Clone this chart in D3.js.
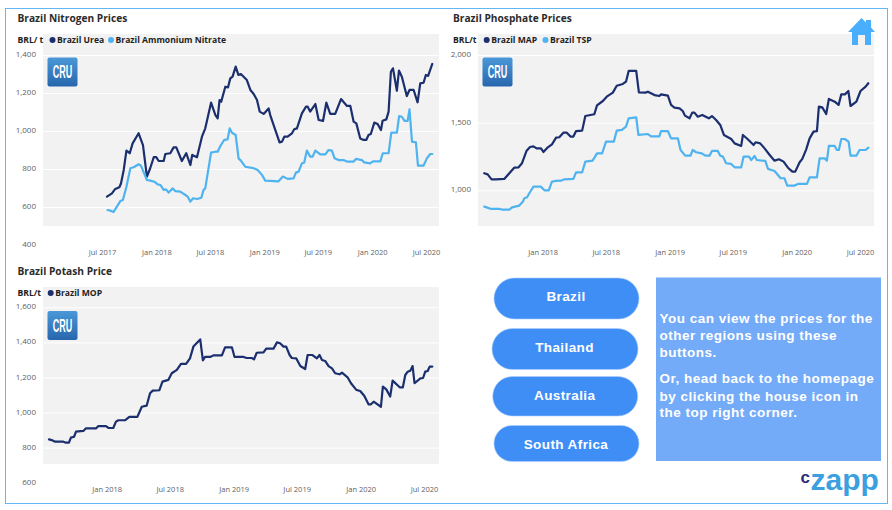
<!DOCTYPE html>
<html><head><meta charset="utf-8">
<script src="https://cdn.jsdelivr.net/npm/d3@7"></script>
<style>
html,body{margin:0;padding:0;background:#fff}
svg{display:block}
text{font-family:"Open Sans",sans-serif}
</style></head><body><svg id="c" width="892" height="510"></svg>
<script>
// [weeks after series' reference date, BRL/t]
const ureaData=[[2.4,655],[4.8,672],[6.4,695],[8.4,704],[9.2,725],[10.5,795],[11.8,897],[13.4,883],[14.8,935],[17.7,988],[19.8,926],[21.7,760],[23.3,804],[25,862],[26.2,862],[27.4,842],[29.8,842],[30.6,879],[33,883],[34.6,914],[35.9,914],[38.6,842],[40.7,883],[42.7,821],[43.6,874],[45.9,862],[48.3,970],[49.9,1014],[52.7,1149],[54.8,1084],[55.9,1067],[56.8,1163],[57.6,1154],[59.6,1233],[60.9,1230],[62,1277],[63.1,1286],[64.6,1339],[65.9,1295],[67.1,1300],[70,1268],[71.7,1216],[73.3,1195],[74.9,1163],[76.2,1102],[78.1,1090],[80.5,1119],[81.3,1084],[82.9,1032],[85.8,940],[87,944],[88.1,970],[89.7,970],[91.8,988],[92.9,1009],[94.2,1014],[96.6,1093],[98.6,1128],[99.4,1128],[100.6,1102],[103.1,1142],[104.7,1058],[106.8,1053],[108.4,1149],[110.3,1090],[112.7,1090],[115.5,1168],[118.4,1132],[120,1132],[121.6,1049],[122.9,1040],[124.8,961],[126.4,953],[127.7,953],[128.8,979],[129.9,984],[131.6,1044],[133.2,1037],[134.8,1005],[135.6,1054],[137.4,1061],[138.5,1102],[139.6,1312],[140.6,1330],[142.5,1212],[143.5,1318],[144.9,1286],[147.3,1184],[148.6,1216],[150.6,1216],[152.5,1151],[153.8,1251],[155.4,1254],[156.5,1295],[157.6,1290],[159.6,1353]];
const ammoniumData=[[2.7,584],[4,581],[5.6,574],[7.2,602],[8.9,632],[10.1,637],[11.8,707],[13.7,804],[15.3,809],[17.7,825],[18.8,818],[21.7,742],[23.3,739],[25.3,733],[26.9,719],[28.2,716],[29.8,690],[30.9,693],[32.2,676],[34.1,698],[35.4,684],[37.8,681],[40.3,663],[41.4,655],[42.7,628],[44,646],[45.9,642],[48,649],[49.1,690],[49.9,698],[52.7,886],[54.8,891],[55.9,891],[57.2,921],[59.1,953],[60.7,956],[61.7,1014],[62.8,991],[64.6,979],[66,856],[67.1,844],[69.2,812],[71.7,807],[73.3,804],[75.2,795],[77.3,769],[78.9,739],[85.3,735],[87.4,760],[89.7,748],[92.6,751],[93.7,781],[95,786],[96.6,830],[97.7,833],[99,897],[100.6,865],[101.8,865],[103.1,897],[105.5,877],[107.9,877],[109.5,900],[111.1,897],[112.4,856],[114.3,847],[116.7,847],[118.4,839],[121.6,839],[122.7,853],[125.6,847],[126.7,835],[129.6,830],[130.9,840],[134.5,840],[135.7,883],[138.5,883],[139.8,991],[142.5,991],[143.6,1079],[144.9,1075],[146.2,1053],[147.7,1053],[148.6,1114],[149.8,944],[151.7,940],[152.7,818],[155.4,818],[157,856],[158.6,879],[159.6,879]];
const mapData=[[-24,1126],[-22.6,1118],[-21,1081],[-19.2,1081],[-15.8,1084],[-13.7,1126],[-11.6,1168],[-9.9,1170],[-8.5,1200],[-6.6,1293],[-5.2,1320],[-3.8,1325],[-2.5,1310],[-0.7,1310],[0.3,1283],[2.1,1318],[3.8,1340],[5.5,1389],[6.8,1392],[8.5,1426],[9.9,1426],[11.4,1397],[12.6,1397],[13.7,1438],[16.2,1441],[17.5,1549],[21.2,1562],[22.3,1628],[24.7,1660],[26.3,1692],[28.8,1722],[30.4,1773],[32.9,1786],[34.2,1803],[35.3,1882],[38.4,1882],[39.5,1724],[42.2,1722],[43.2,1729],[45.9,1704],[47.9,1697],[48.6,1709],[51.4,1700],[52.7,1631],[54.1,1611],[56.2,1606],[57.5,1586],[58.4,1552],[60.3,1532],[61.4,1574],[62.3,1574],[63.7,1544],[65.5,1557],[68.2,1532],[69.5,1549],[71.2,1520],[72.9,1483],[74.4,1409],[77.4,1379],[78.8,1347],[81.5,1328],[82.2,1409],[84.2,1377],[86.6,1335],[87.4,1355],[89.3,1347],[91.1,1310],[93.2,1261],[95.2,1219],[97,1229],[98.9,1212],[100.7,1167],[102.5,1138],[103.7,1138],[105.5,1207],[106.6,1232],[108.2,1303],[109.6,1384],[111.2,1434],[112.6,1438],[113.4,1618],[114.8,1613],[116.4,1564],[117.5,1675],[119.9,1655],[121.5,1631],[122.6,1709],[124.1,1709],[125.5,1734],[126.4,1623],[128.8,1655],[130.5,1734],[132.6,1766],[133.7,1791]];
const tspData=[[-24,879],[-23,874],[-21.2,862],[-17.8,862],[-16.4,857],[-13.7,857],[-12.6,874],[-9.6,887],[-8.2,916],[-7.5,941],[-6.4,948],[-5.5,978],[-3.8,1027],[-0.7,1027],[0.7,1000],[2.5,1000],[3.8,1064],[5.2,1069],[7.5,1071],[8.9,1081],[12.6,1084],[13.7,1133],[16.2,1133],[17.5,1212],[20.5,1219],[22.3,1273],[24.4,1273],[26,1360],[29.2,1360],[30.4,1441],[32.5,1446],[34.2,1470],[35.3,1532],[38.4,1539],[39.3,1409],[43.2,1416],[44.5,1399],[47.9,1399],[48.6,1438],[51.4,1438],[52.7,1384],[55.5,1384],[56.6,1298],[58.5,1256],[60.7,1256],[61.6,1298],[63,1281],[65.3,1273],[66.8,1256],[68.5,1256],[69.5,1291],[71.9,1291],[72.9,1256],[74,1249],[75.3,1200],[77.4,1195],[78.8,1170],[81.5,1170],[82.5,1249],[84.7,1249],[85.6,1224],[87,1254],[87.9,1224],[91.4,1217],[92.5,1158],[95.2,1143],[97.7,1089],[99.3,1089],[100.4,1035],[103.4,1035],[104.8,1047],[108.5,1047],[109.6,1096],[112.6,1096],[113.7,1236],[115.8,1236],[116.7,1219],[117.5,1328],[119.9,1328],[120.8,1298],[121.6,1298],[122.6,1379],[124,1379],[125.6,1360],[126.4,1256],[128.8,1256],[130.1,1298],[132.6,1298],[133.7,1315]];
const mopData=[[-23.7,847],[-22.6,843],[-21.2,834],[-17.8,834],[-16.7,828],[-15.5,828],[-14.7,857],[-13.4,862],[-12.6,891],[-9.6,895],[-8.5,910],[-4.4,910],[-3.4,923],[-0.3,923],[0.7,912],[2.7,912],[3.8,948],[4.8,956],[7.5,956],[9.3,975],[12.6,975],[14.4,1033],[16.4,1039],[17.8,1110],[18.9,1125],[21.6,1127],[22.9,1176],[25.3,1186],[26.7,1224],[28.8,1243],[30.5,1277],[32.6,1277],[34.2,1309],[35.6,1376],[38.4,1417],[39.5,1298],[40.4,1317],[42.5,1317],[43.8,1326],[47.3,1326],[48.6,1372],[51.4,1372],[52.5,1317],[56.2,1317],[57.5,1311],[59.6,1311],[60.5,1303],[61.6,1341],[64.4,1343],[65.5,1364],[68.5,1364],[69.9,1400],[71.2,1395],[72.6,1376],[73.7,1376],[75.1,1328],[76,1311],[77.8,1309],[79.5,1265],[81.5,1248],[82.5,1328],[84.5,1328],[86.3,1309],[87.4,1328],[88.4,1300],[89.7,1294],[91.1,1265],[92.5,1252],[93.8,1224],[95.6,1218],[96.6,1227],[98.9,1201],[100.3,1167],[102.5,1129],[104.1,1123],[105.8,1094],[107.5,1047],[108.5,1047],[109.6,1062],[112.6,1033],[113.4,1148],[114.8,1132],[116.4,1091],[117.4,1182],[120.3,1144],[121.6,1144],[122.6,1214],[123.6,1233],[124.7,1239],[125.6,1265],[126.4,1167],[128.8,1195],[129.9,1197],[130.8,1233],[131.8,1237],[132.6,1262],[133.7,1262]];

const nitrogenYTicks=[400,600,800,1000,1200,1400];
const phosphateYTicks=[1000,1500,2000];
const potashYTicks=[600,800,1000,1200,1400,1600];
const ticksFrom2017=["2017-07-01","2018-01-01","2018-07-01","2019-01-01","2019-07-01","2020-01-01","2020-07-01"];
const ticksFrom2018=ticksFrom2017.slice(1);
const regions=["Brazil","Thailand","Australia","South Africa"];
const noteLines=["You can view the prices for the","other regions using these","buttons.","Or, head back to the homepage","by clicking the house icon in","the top right corner."];

const NAVY="#1b2f6e",SKY="#4fb3ef",GREY="#5f5f5f",INK="#2b2b2b";
const svg=d3.select("#c");
const defs=svg.append("defs");
const g=defs.append("linearGradient").attr("id","cru").attr("x1",0).attr("y1",0).attr("x2",0).attr("y2",1);
g.append("stop").attr("offset",0).attr("stop-color","#4a98d8");
g.append("stop").attr("offset",1).attr("stop-color","#2866ad");

svg.append("rect").attr("x",5.5).attr("y",8.5).attr("width",882).attr("height",495)
  .attr("fill","#fff").attr("stroke","#62b6f2").attr("stroke-width",1);

const parse=d3.utcParse("%Y-%m-%d");
const fmt=d3.utcFormat("%b %Y");

function chart(o){
  const p=svg.append("g");
  p.append("rect").attr("x",o.px[0]).attr("y",o.py[0]).attr("width",o.px[1]-o.px[0]).attr("height",o.py[1]-o.py[0]).attr("fill","#f2f2f2");
  const x=d3.scaleUtc().domain([parse(o.xTicks[0]),parse(o.xTicks[o.xTicks.length-1])]).range(o.xr);
  const y=d3.scaleLinear().domain(o.yd).range(o.yr);
  const base=+parse(o.base);
  const toDate=w=>new Date(base+w*7*864e5);

  const ya=p.append("g").attr("transform",`translate(${o.px[0]},0)`)
    .call(d3.axisLeft(y).tickValues(o.yTicks).tickFormat(d3.format(",")).tickSize(-(o.px[1]-o.px[0])).tickPadding(7));
  ya.select(".domain").remove();
  ya.selectAll("line").attr("stroke","#fff").attr("stroke-width",1);
  ya.selectAll("text").attr("fill",GREY).attr("dy","0.2em").style("font-size","8px").style("font-family","'Open Sans',sans-serif");

  const xa=p.append("g").attr("transform",`translate(0,${o.xAxisY})`)
    .call(d3.axisBottom(x).tickValues(o.xTicks.map(parse)).tickFormat(fmt).tickSize(0).tickPadding(0));
  xa.select(".domain").remove();
  xa.selectAll("text").attr("fill",GREY).style("font-size","7.5px").style("font-family","'Open Sans',sans-serif");

  const line=d3.line().x(d=>x(toDate(d[0]))).y(d=>y(d[1]));
  o.series.forEach(s=>{
    p.append("path").datum(s.data).attr("d",line).attr("fill","none").attr("stroke",s.color)
      .attr("stroke-width",2.2).attr("stroke-linejoin","round").attr("stroke-linecap","round");
  });

  p.append("text").attr("x",o.tx).attr("y",o.ty).text(o.title).attr("fill",INK).style("font-weight",700).style("font-size","10.2px");
  p.append("text").attr("x",o.tx).attr("y",o.ty+21).text(o.unit).attr("fill","#1f1f1f").style("font-weight",700).style("font-size","8.6px");
  o.series.forEach(s=>{
    p.append("circle").attr("cx",s.lx).attr("cy",o.ty+18).attr("r",3).attr("fill",s.color);
    p.append("text").attr("x",s.lx+4.5).attr("y",o.ty+21).text(s.name).attr("fill","#1f1f1f").style("font-weight",700).style("font-size","8.6px");
  });

  // CRU badge
  const b=p.append("g");
  const cx=o.px[0]+19.5;
  b.append("rect").attr("x",o.px[0]+4.5).attr("y",o.badgeY).attr("width",30).attr("height",29).attr("rx",2).attr("fill","url(#cru)");
  b.append("text").attr("x",0).attr("y",o.badgeY+21).attr("text-anchor","middle").text("CRU")
    .attr("fill","#fff").attr("transform",`translate(${cx},0) scale(.5,1)`)
    .style("font-family","'Liberation Sans',sans-serif").style("font-weight",700).style("font-size","18px");
}

chart({title:"Brazil Nitrogen Prices",unit:"BRL/ t",tx:17.5,ty:22,px:[43,439],py:[34,226],xAxisY:250,
  xr:[102,426],yd:[400,1400],yr:[245,55],yTicks:nitrogenYTicks,xTicks:ticksFrom2017,base:"2017-07-01",badgeY:57.5,
  series:[{name:"Brazil Urea",data:ureaData,color:NAVY,lx:52.5},{name:"Brazil Ammonium Nitrate",data:ammoniumData,color:SKY,lx:111}]});
chart({title:"Brazil Phosphate Prices",unit:"BRL/t",tx:453,ty:22,px:[478,874],py:[34,226],xAxisY:250,
  xr:[542.7,860],yd:[1000,2000],yr:[190.3,55],yTicks:phosphateYTicks,xTicks:ticksFrom2018,base:"2018-01-01",badgeY:57.5,
  series:[{name:"Brazil MAP",data:mapData,color:NAVY,lx:486.7},{name:"Brazil TSP",data:tspData,color:SKY,lx:545.5}]});
chart({title:"Brazil Potash Price",unit:"BRL/t",tx:17.5,ty:275,px:[43,439],py:[287,464],xAxisY:487,
  xr:[106.7,424],yd:[600,1600],yr:[482.7,307.3],yTicks:potashYTicks,xTicks:ticksFrom2018,base:"2018-01-01",badgeY:311,
  series:[{name:"Brazil MOP",data:mopData,color:NAVY,lx:50.7}]});

// house icon
const house=svg.append("g").attr("fill","#4aaeff");
house.append("path").attr("d",d3.line()([[848,32],[861.5,18],[866,22.5],[866,20],[871,20],[871,27.5],[875,32],[871,32],[871,45],[865,45],[865,35],[858,35],[858,45],[852,45],[852,32]]));

// region buttons
const btnX=[494,492,492.7,494],btnW=[145,146,145,145],btnY=[278,328.5,376.5,425.5],btnH=[41,41,39.5,36];
const btnG=svg.append("g").selectAll("g").data(regions).join("g");
btnG.append("rect").attr("x",(d,i)=>btnX[i]).attr("y",(d,i)=>btnY[i]).attr("width",(d,i)=>btnW[i]).attr("height",(d,i)=>btnH[i])
  .attr("rx",(d,i)=>btnH[i]/2).attr("fill","#3f8ef6").attr("stroke","#a9cdfb").attr("stroke-width",.6);
const btnBase=[301,351.5,400,448.5];
btnG.append("text").attr("x",(d,i)=>btnX[i]+btnW[i]/2-.5).attr("y",(d,i)=>btnBase[i]).text(d=>d)
  .attr("text-anchor","middle").attr("fill","#fff").style("font-family","'Liberation Sans',sans-serif").style("font-weight",700).style("font-size","13.5px").style("letter-spacing","0.4px");

// note panel
svg.append("rect").attr("x",656).attr("y",277.5).attr("width",225).attr("height",183.5).attr("fill","#74abf8");
const noteY=[322.7,339.7,356.7,383.3,400.5,417.3];
svg.append("g").selectAll("text").data(noteLines).join("text").attr("x",659.5).attr("y",(d,i)=>noteY[i]).text(d=>d)
  .attr("fill","#fff").style("font-family","'Liberation Sans',sans-serif").style("font-weight",700).style("font-size","13.5px").style("letter-spacing","0.5px");

// logo
svg.append("text").attr("x",800.5).attr("y",483).text("c").attr("fill","#2d2a78").style("font-family","'Liberation Sans',sans-serif").style("font-weight",700).style("font-size","17px");
svg.append("text").attr("x",810.5).attr("y",490).text("zapp").attr("fill","#3b9fe0").style("font-family","'Liberation Sans',sans-serif").style("font-weight",700).style("font-size","30px");
</script></body></html>
